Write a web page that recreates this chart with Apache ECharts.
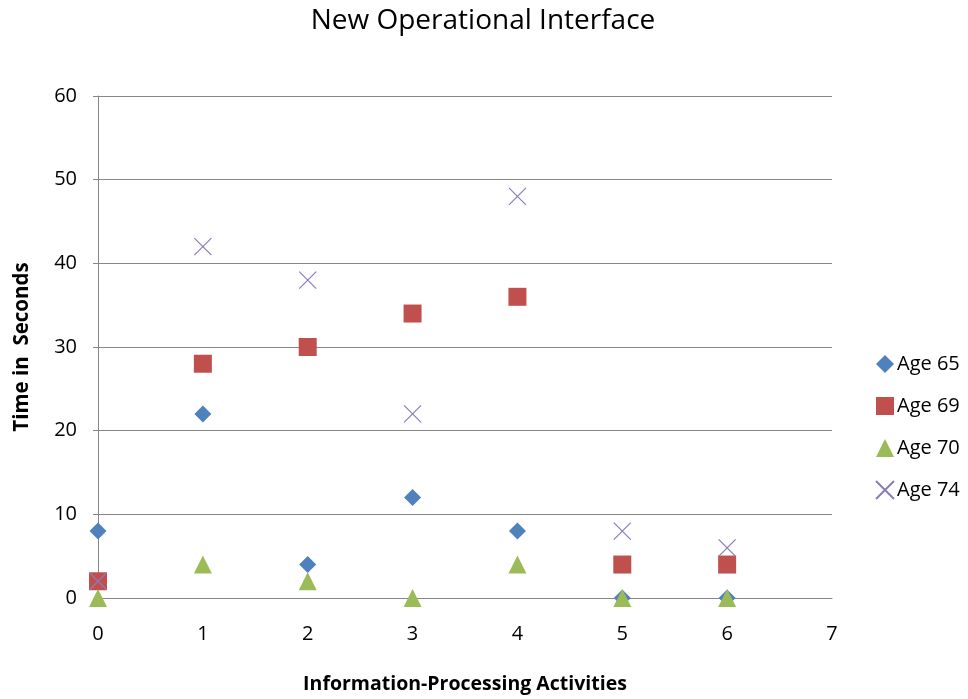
<!DOCTYPE html>
<html><head><meta charset="utf-8">
<script src="https://cdn.jsdelivr.net/npm/echarts@6/dist/echarts.min.js"></script>
<style>html,body{margin:0;padding:0;background:#fff}#c{width:968px;height:699px}</style>
</head><body><div id="c"></div>
<script>
var xValues = [0, 1, 2, 3, 4, 5, 6];
var age65 = [8, 22, 4, 12, 8, 0, 0];
var age69 = [2, 28, 30, 34, 36, 4, 4];
var age70 = [0, 4, 2, 0, 4, 0, 0];
var age74 = [2, 42, 38, 22, 48, 8, 6];
var seriesNames = ['Age 65', 'Age 69', 'Age 70', 'Age 74'];

function pts(arr){ return xValues.map(function(x,i){ return [x, arr[i]]; }); }
var F = '"Open Sans", Lato, sans-serif';
var chart = echarts.init(document.getElementById('c'));
chart.setOption({
  animation: false,
  title: { text: 'New Operational Interface', left: 478, top: 2, textAlign: 'center',
    textStyle: { fontFamily: F, fontSize: 28, fontWeight: 'normal', color: '#000' } },
  grid: { left: 98, right: 136, top: 96, bottom: 101 },
  legend: { orient: 'vertical', left: 870, top: 349, itemGap: 22, itemWidth: 18, itemHeight: 18,
    textStyle: { fontFamily: F, fontSize: 20, color: '#000', padding: [0,0,0,-2] }, data: seriesNames },
  xAxis: { type: 'value', min: 0, max: 7, interval: 1,
    name: 'Information-Processing Activities', nameLocation: 'middle', nameGap: 76,
    nameTextStyle: { fontFamily: F, fontSize: 19.5, fontWeight: 'bold', color: '#000' },
    axisLine: { show: true, lineStyle: { color: '#868686' } },
    axisTick: { show: false },
    splitLine: { show: false },
    axisLabel: { fontFamily: F, fontSize: 20, color: '#000', margin: 26 } },
  yAxis: { type: 'value', min: 0, max: 60, interval: 10,
    name: 'Time in  Seconds', nameLocation: 'middle', nameGap: 65,
    nameTextStyle: { fontFamily: F, fontSize: 20.5, fontWeight: 'bold', color: '#000' },
    axisLine: { show: true, lineStyle: { color: '#868686' } },
    axisTick: { show: true, length: 5, lineStyle: { color: '#868686' } },
    splitLine: { show: true, lineStyle: { color: '#868686' } },
    axisLabel: { fontFamily: F, fontSize: 20, color: '#000', margin: 21 } },
  series: [
    { name: 'Age 65', type: 'scatter', symbol: 'diamond', symbolSize: 17, data: pts(age65),
      itemStyle: { color: '#4f81bd', opacity: 1 } },
    { name: 'Age 69', type: 'scatter', symbol: 'rect', symbolSize: 18, data: pts(age69),
      itemStyle: { color: '#c0504d', opacity: 1 } },
    { name: 'Age 70', type: 'scatter', symbol: 'triangle', symbolSize: 18, data: pts(age70),
      itemStyle: { color: '#9bbb59', opacity: 1 } },
    { name: 'Age 74', type: 'scatter', symbol: 'path://M0,0L10,10M10,0L0,10', symbolSize: 17, data: pts(age74),
      itemStyle: { color: 'rgba(0,0,0,0)', borderColor: '#8c7bb8', borderWidth: 1.2, opacity: 1 } }
  ]
});
</script></body></html>
